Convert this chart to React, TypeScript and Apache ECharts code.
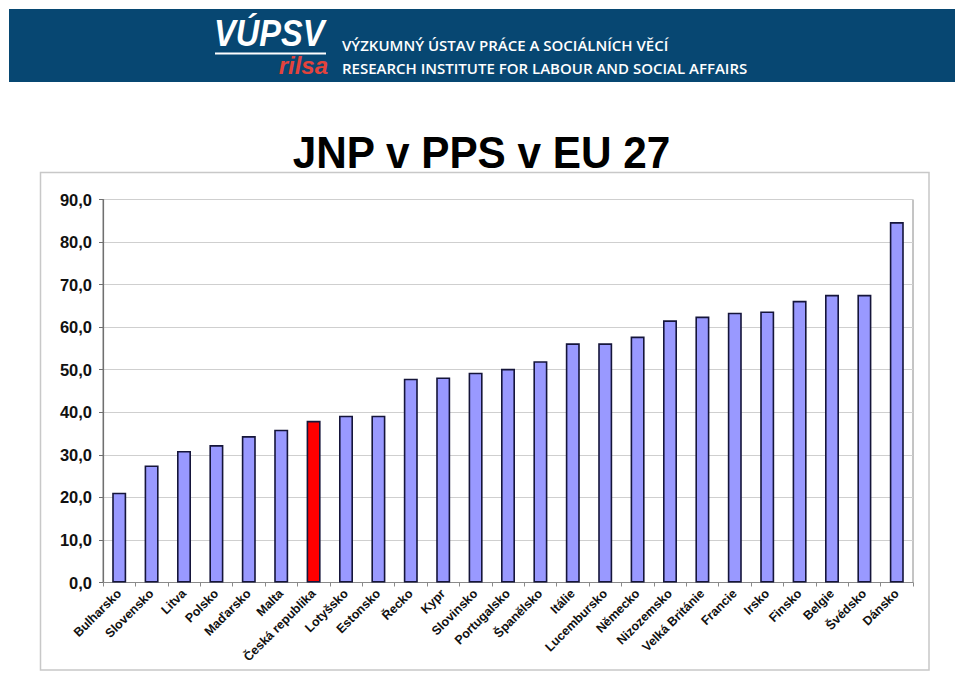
import React, { useEffect, useRef } from "react";
import * as echarts from "echarts";

const categories = [
  "Bulharsko", "Slovensko", "Litva", "Polsko", "Maďarsko", "Malta",
  "Česká republika", "Lotyšsko", "Estonsko", "Řecko", "Kypr", "Slovinsko",
  "Portugalsko", "Španělsko", "Itálie", "Lucembursko", "Německo",
  "Nizozemsko", "Velká Británie", "Francie", "Irsko", "Finsko", "Belgie",
  "Švédsko", "Dánsko",
];
const values = [
  21.1, 27.5, 30.9, 32.3, 34.4, 35.9, 38.0, 39.2, 39.2, 47.9, 48.2, 49.3,
  50.2, 52.0, 56.2, 56.2, 57.8, 61.6, 62.5, 63.4, 63.7, 66.2, 67.6, 67.6, 84.7,
];
const highlightCategory = "Česká republika";
const yTicks = { min: 0, max: 90, interval: 10 };
const titleText = "JNP v PPS v EU 27";
const bannerLine1 = "VÝZKUMNÝ ÚSTAV PRÁCE A SOCIÁLNÍCH VĚCÍ";
const bannerLine2 = "RESEARCH INSTITUTE FOR LABOUR AND SOCIAL AFFAIRS";

export default function App() {
  const ref = useRef<HTMLDivElement>(null);
  useEffect(() => {
    if (!ref.current) return;
    const chart = echarts.init(ref.current, null, { renderer: "svg" });
    const font = "'Liberation Sans', Arial, sans-serif";
    chart.setOption({
      animation: false,
      backgroundColor: "#ffffff",
      grid: {
        left: 103,
        top: 199.5,
        right: 46,
        bottom: 90.5,
        show: true,
        borderColor: "#8a8a8a",
        borderWidth: 1,
        backgroundColor: "transparent",
      },
      xAxis: {
        type: "category",
        data: categories,
        axisLine: { show: true, lineStyle: { color: "#8a8a8a", width: 1 } },
        axisTick: { show: true, length: 4, lineStyle: { color: "#8a8a8a" } },
        axisLabel: {
          interval: 0,
          rotate: 45,
          margin: 9,
          fontFamily: font,
          fontWeight: "bold",
          fontSize: 12.5,
          color: "#111",
        },
      },
      yAxis: {
        type: "value",
        min: yTicks.min,
        max: yTicks.max,
        interval: yTicks.interval,
        axisLine: { show: true, lineStyle: { color: "#707070", width: 1.2 } },
        axisTick: { show: true, length: 4, lineStyle: { color: "#707070" } },
        splitLine: { show: true, lineStyle: { color: "#cfcfcf", width: 1 } },
        axisLabel: {
          margin: 11,
          fontFamily: font,
          fontWeight: "bold",
          fontSize: 16.5,
          color: "#111",
          formatter: (v: number) => v.toFixed(1).replace(".", ","),
        },
      },
      series: [
        {
          type: "bar",
          barWidth: 14,
          data: values.map((v, i) => ({
            value: v,
            itemStyle: {
              color: categories[i] === highlightCategory ? "#ff0000" : "#9999ff",
            },
          })),
          itemStyle: { borderColor: "#15153a", borderWidth: 1.6 },
        },
      ],
      graphic: [
        {
          type: "rect",
          shape: { x: 40.5, y: 172.5, width: 888.5, height: 497.5 },
          style: { fill: "none", stroke: "#c8c8c8", lineWidth: 1.5 },
          z: -1,
        },
        {
          type: "rect",
          shape: { x: 9, y: 9, width: 946, height: 73 },
          style: { fill: "#074772" },
        },
        {
          type: "text",
          x: 214,
          y: 51,
          scaleX: 0.88,
          style: {
            text: "VÚPSV",
            fill: "#ffffff",
            font: `italic bold 37px ${font}`,
            align: "left",
            verticalAlign: "bottom",
          },
        },
        {
          type: "rect",
          shape: { x: 215, y: 52.5, width: 111, height: 2 },
          style: { fill: "#ffffff" },
        },
        {
          type: "text",
          x: 328,
          y: 77,
          style: {
            text: "rilsa",
            fill: "#e3433c",
            font: `italic bold 24px ${font}`,
            align: "right",
            verticalAlign: "bottom",
          },
        },
        {
          type: "text",
          x: 342,
          y: 45,
          style: {
            text: bannerLine1,
            fill: "#ffffff",
            font: "600 15px 'Open Sans', sans-serif",
            align: "left",
            verticalAlign: "middle",
          },
        },
        {
          type: "text",
          x: 342,
          y: 68,
          style: {
            text: bannerLine2,
            fill: "#ffffff",
            font: "600 15px 'Open Sans', sans-serif",
            align: "left",
            verticalAlign: "middle",
          },
        },
        {
          type: "text",
          x: 481.5,
          y: 152,
          scaleX: 0.94,
          style: {
            text: titleText,
            fill: "#000000",
            font: `bold 45px ${font}`,
            align: "center",
            verticalAlign: "middle",
          },
        },
      ],
    });
    return () => chart.dispose();
  }, []);
  return (
    <div
      ref={ref}
      style={{ position: "fixed", left: 0, top: 0, width: 959, height: 673 }}
    />
  );
}
